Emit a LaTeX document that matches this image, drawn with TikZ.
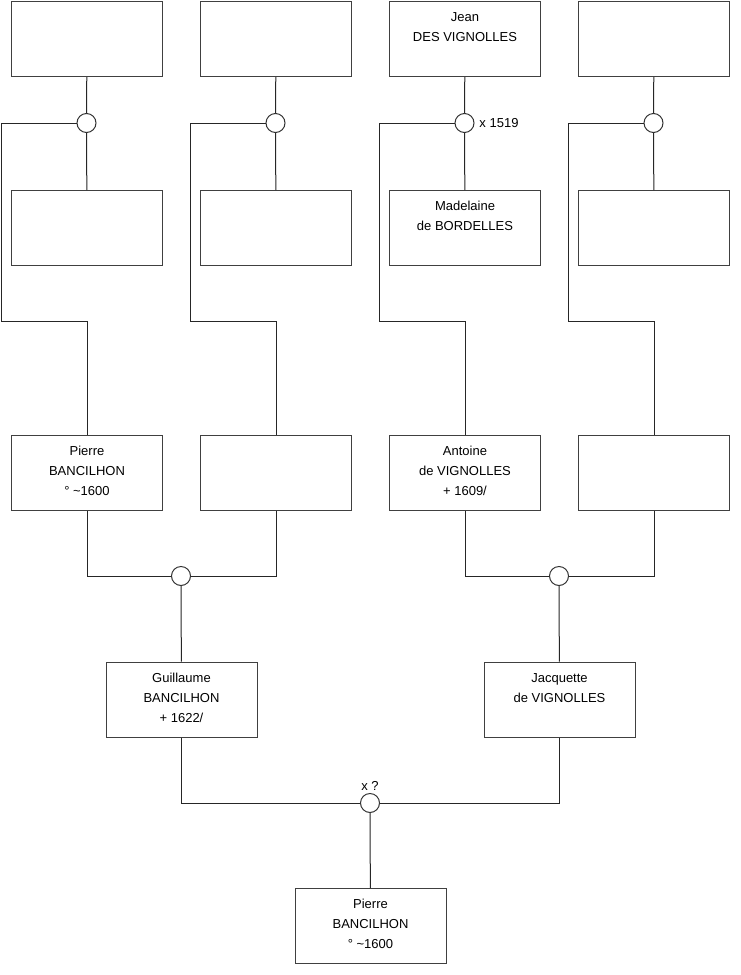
\documentclass[tikz,border=0pt]{standalone}
\usepackage{fontspec}
\setmainfont{Liberation Sans}
\tikzset{
  person/.style={draw=black!75, line width=1pt, inner sep=0pt, minimum width=151pt, minimum height=75pt, anchor=north west, font=\fontsize{13}{20}\selectfont},
  union/.style={circle, draw=black!80, line width=1pt, minimum size=19pt, inner sep=0pt, fill=white},
  link/.style={draw=black!85, line width=1pt},
  note/.style={font=\fontsize{13}{16}\selectfont, inner sep=0pt},
}
\newcommand{\ptext}[1]{\parbox[c][75pt][t]{151pt}{\centering\rule{0pt}{20pt}#1}}
\begin{document}
\begin{tikzpicture}[x=1pt, y=-1pt]
\useasboundingbox (0,0) rectangle (740,975);
% row 1
\node[person] (a1) at (11,1) {};
\node[person] (a2) at (200,1) {};
\node[person] (a3) at (389,1) {\ptext{Jean\\DES VIGNOLLES}};
\node[person] (a4) at (578,1) {};
% unions row 1
\node[union] (u1) at (86.5,123) {};
\node[union] (u2) at (275.5,123) {};
\node[union] (u3) at (464.5,123) {};
\node[union] (u4) at (653.5,123) {};
\node[note] (m3) at (499,123) {x 1519};
% row 2
\node[person] (b1) at (11,190) {};
\node[person] (b2) at (200,190) {};
\node[person] (b3) at (389,190) {\ptext{Madelaine\\de BORDELLES}};
\node[person] (b4) at (578,190) {};
% row 3
\node[person] (c1) at (11,435) {\ptext{Pierre\\BANCILHON\\° \textasciitilde1600}};
\node[person] (c2) at (200,435) {};
\node[person] (c3) at (389,435) {\ptext{Antoine\\de VIGNOLLES\\+ 1609/}};
\node[person] (c4) at (578,435) {};
% unions row 3
\node[union] (v1) at (181,576) {};
\node[union] (v2) at (559,576) {};
% row 4
\node[person] (d1) at (105.5,661.5) {\ptext{Guillaume\\BANCILHON\\+ 1622/}};
\node[person] (d2) at (483.5,661.5) {\ptext{Jacquette\\de VIGNOLLES}};
% final union
\node[union] (w) at (370,803) {};
\node[note] (mw) at (370,786) {x ?};
% bottom
\node[person] (e) at (294.5,888) {\ptext{Pierre\\BANCILHON\\° \textasciitilde1600}};
% bend points
\coordinate (k1) at (1.5,321);
\coordinate (k2) at (190.5,321);
\coordinate (k3) at (379.5,321);
\coordinate (k4) at (568.5,321);
% connectors
\foreach \i in {1,2,3,4}{
  \draw[link] (a\i) -- (u\i);
  \draw[link] (u\i) -- (b\i);
  \draw[link] (u\i.west) -| (k\i) -| (c\i.north);
}
\draw[link] (c1.south) |- (v1.west);
\draw[link] (c2.south) |- (v1.east);
\draw[link] (c3.south) |- (v2.west);
\draw[link] (c4.south) |- (v2.east);
\draw[link] (v1) -- (d1);
\draw[link] (v2) -- (d2);
\draw[link] (d1.south) |- (w.west);
\draw[link] (d2.south) |- (w.east);
\draw[link] (w) -- (e);
\end{tikzpicture}
\end{document}
